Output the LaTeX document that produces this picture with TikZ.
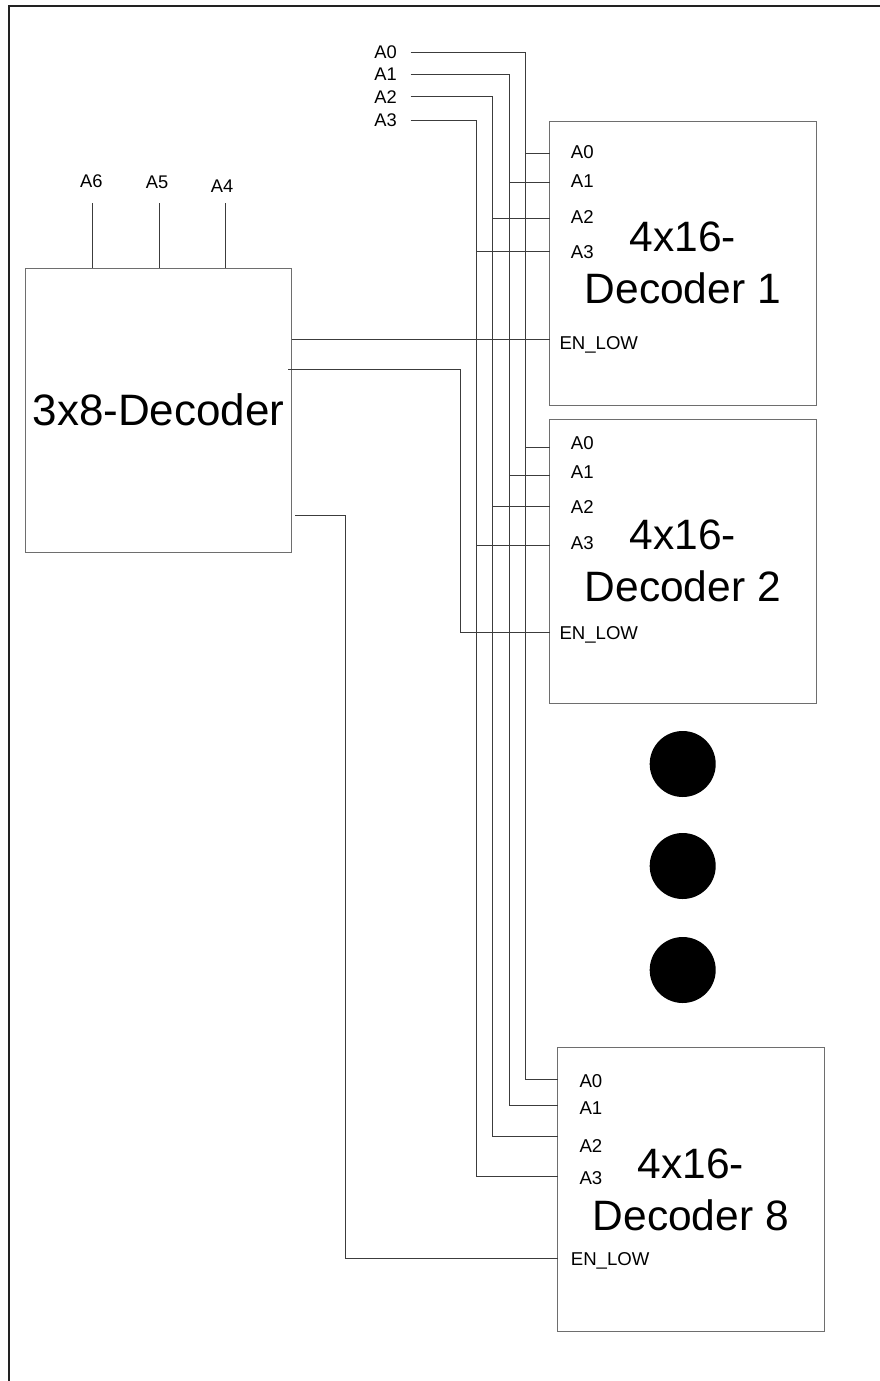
\documentclass[tikz,border=0pt]{standalone}
\usepackage{fontspec}
\setmainfont{Liberation Sans}
\definecolor{boxgray}{HTML}{6E6E6E}
\definecolor{wiregray}{HTML}{3C3C3C}
\definecolor{framegray}{HTML}{222222}
\begin{document}
\begin{tikzpicture}[x=1pt,y=-1pt,
  box/.style={draw=boxgray, line width=1pt, minimum width=266.5pt, minimum height=284pt, inner sep=0pt, align=center, font=\fontsize{42.5}{52}\selectfont},
  pinlbl/.style={anchor=west, inner sep=0pt, font=\fontsize{18.6}{20}\selectfont},
  inlbl/.style={inner sep=0pt, font=\fontsize{18.3}{20}\selectfont},
  wire/.style={draw=wiregray, line width=1pt},
  dotnode/.style={circle, fill=black, inner sep=0pt, minimum size=66pt}]
\useasboundingbox (0,0) rectangle (880,1381);
\draw[framegray, line width=1.2pt] (9,1381) -- (9,6) -- (880,6);

% boxes
\node[box, font=\fontsize{44}{52}\selectfont] (d38) at (158.5,410) {3x8-Decoder};
\node[box] (d1) at (682.75,263) {4x16-\\Decoder 1};
\node[box] (d2) at (682.75,561) {4x16-\\Decoder 2};
\node[box] (d8) at (690.75,1189.5) {4x16-\\Decoder 8};

% dots
\node[dotnode] (dot1) at (682.7,764) {};
\node[dotnode] (dot2) at (682.7,866) {};
\node[dotnode] (dot3) at (682.7,970) {};

% 3x8 inputs
\node[inlbl] (lA6) at (91.3,181) {A6};
\node[inlbl] (lA5) at (157,182) {A5};
\node[inlbl] (lA4) at (222,186.5) {A4};
\coordinate (t6) at (92,203);
\coordinate (t5) at (159,203);
\coordinate (t4) at (225,203);
\draw[wire] (t6) -- (t6 |- d38.north);
\draw[wire] (t5) -- (t5 |- d38.north);
\draw[wire] (t4) -- (t4 |- d38.north);

% top address inputs
\node[inlbl, anchor=east] (iA0) at (397,52.7) {A0};
\node[inlbl, anchor=east] (iA1) at (397,74.3) {A1};
\node[inlbl, anchor=east] (iA2) at (397,96.7) {A2};
\node[inlbl, anchor=east] (iA3) at (397,120.3) {A3};
\coordinate (s0) at (410.7,52.7);
\coordinate (s1) at (410.7,74.3);
\coordinate (s2) at (410.7,96.7);
\coordinate (s3) at (410.7,120.3);

% decoder pins (on left edges)
\coordinate (p1a0) at (549.5,153.3);
\coordinate (p1a1) at (549.5,182.3);
\coordinate (p1a2) at (549.5,218.7);
\coordinate (p1a3) at (549.5,251.7);
\coordinate (p1en) at (549.5,339.3);
\coordinate (p2a0) at (549.5,447.7);
\coordinate (p2a1) at (549.5,475.7);
\coordinate (p2a2) at (549.5,506);
\coordinate (p2a3) at (549.5,545.7);
\coordinate (p2en) at (549.5,632.3);
\coordinate (p8a0) at (557.5,1079.3);
\coordinate (p8a1) at (557.5,1105.5);
\coordinate (p8a2) at (557.5,1136.7);
\coordinate (p8a3) at (557.5,1176.5);
\coordinate (p8en) at (557.5,1258.7);

% buses
\draw[wire] (s0) -- (525.7,52.7) -- (525.7,1079.3) -- (p8a0);
\draw[wire] (s1) -- (509,74.3) -- (509,1105.5) -- (p8a1);
\draw[wire] (s2) -- (492.7,96.7) -- (492.7,1136.7) -- (p8a2);
\draw[wire] (s3) -- (476,120.3) -- (476,1176.5) -- (p8a3);
\draw[wire] (525.7,153.3) -- (p1a0);
\draw[wire] (509,182.3) -- (p1a1);
\draw[wire] (492.7,218.7) -- (p1a2);
\draw[wire] (476,251.7) -- (p1a3);
\draw[wire] (525.7,447.7) -- (p2a0);
\draw[wire] (509,475.7) -- (p2a1);
\draw[wire] (492.7,506) -- (p2a2);
\draw[wire] (476,545.7) -- (p2a3);

% enables
\coordinate (o1) at (291.7,339.3);
\coordinate (o2) at (288,369.3);
\coordinate (o3) at (295,515);
\draw[wire] (o1) -- (p1en);
\draw[wire] (o2) -- (460,369.3) -- (460,632.3) -- (p2en);
\draw[wire] (o3) -- (345,515) -- (345,1258.7) -- (p8en);

% pin labels
\node[pinlbl] (l1a0) at (570.7,152.3) {A0};
\node[pinlbl] (l1a1) at (570.7,180.7) {A1};
\node[pinlbl] (l1a2) at (570.7,217.3) {A2};
\node[pinlbl] (l1a3) at (570.7,251.7) {A3};
\node[pinlbl] (l1en) at (559.3,345) {EN\_LOW};
\node[pinlbl] (l2a0) at (570.7,443) {A0};
\node[pinlbl] (l2a1) at (570.7,472) {A1};
\node[pinlbl] (l2a2) at (570.7,507) {A2};
\node[pinlbl] (l2a3) at (570.7,543) {A3};
\node[pinlbl] (l2en) at (559.3,635) {EN\_LOW};
\node[pinlbl] (l8a0) at (579.3,1080.7) {A0};
\node[pinlbl] (l8a1) at (579.3,1108.3) {A1};
\node[pinlbl] (l8a2) at (579.3,1145.7) {A2};
\node[pinlbl] (l8a3) at (579.3,1177.7) {A3};
\node[pinlbl] (l8en) at (570.7,1261.3) {EN\_LOW};
\end{tikzpicture}
\end{document}
